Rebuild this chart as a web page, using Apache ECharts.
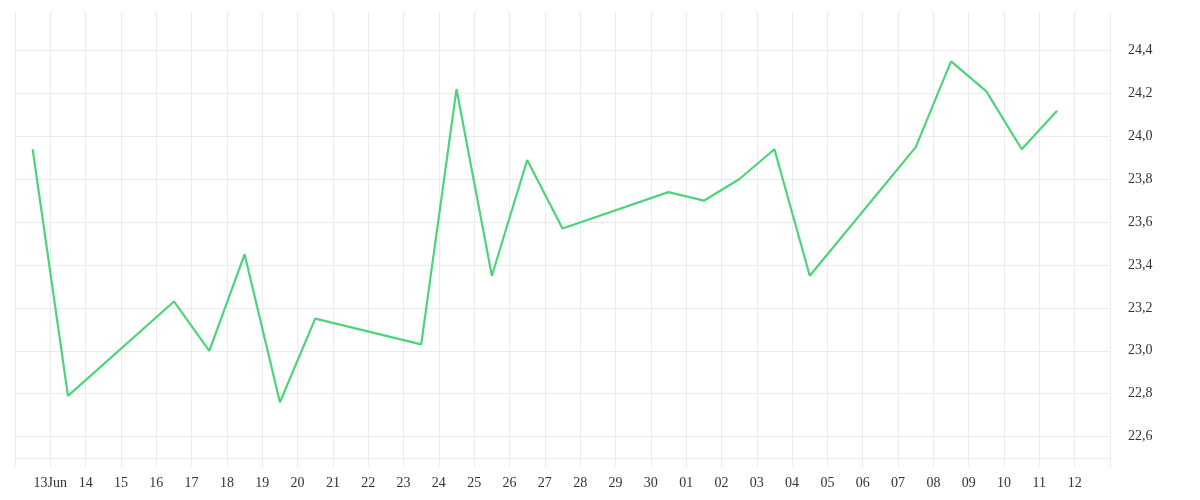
<!DOCTYPE html>
<html style="height: 100%">
<head>
    <meta charset="utf-8">
    <title>Line chart</title>
    <script src="https://cdn.jsdelivr.net/npm/echarts@6/dist/echarts.min.js"></script>
</head>
<body style="height: 100%; margin: 0; background: #fff">
    <div id="chart" style="width: 1200px; height: 500px"></div>
    <script>
        // dates (trading days, 2025) and values
        const dates = [
            '2025-06-12', '2025-06-13', '2025-06-16', '2025-06-17', '2025-06-18',
            '2025-06-19', '2025-06-20', '2025-06-23', '2025-06-24', '2025-06-25',
            '2025-06-26', '2025-06-27', '2025-06-30', '2025-07-01', '2025-07-02',
            '2025-07-03', '2025-07-04', '2025-07-07', '2025-07-08', '2025-07-09',
            '2025-07-10', '2025-07-11'
        ];
        const values = [
            23.94, 22.79, 23.23, 23.00, 23.45,
            22.76, 23.15, 23.03, 24.22, 23.35,
            23.89, 23.57, 23.74, 23.70, 23.80,
            23.94, 23.35, 23.95, 24.35, 24.21,
            23.94, 24.12
        ];
        const xStart = '2025-06-12';
        const xEnd = '2025-07-13';
        const firstLabelMonth = 'Jun';

        const DAY = 86400000;
        const ts = s => Date.parse(s + 'T00:00:00Z');
        // points sit in the middle of each day
        const seriesData = dates.map((d, i) => [ts(d) + DAY / 2, values[i]]);

        const gridColor = '#ebebeb';
        const textStyle = { color: '#333', fontFamily: 'Liberation Serif', fontSize: 14 };

        const chart = echarts.init(document.getElementById('chart'), null, { renderer: 'canvas' });
        chart.setOption({
            useUTC: true,
            animation: false,
            grid: { left: 15, right: 90, top: 12, bottom: 42 },
            xAxis: {
                type: 'time',
                min: ts(xStart),
                max: ts(xEnd),
                splitNumber: 31,
                minInterval: DAY,
                maxInterval: DAY,
                axisLine: { lineStyle: { color: gridColor } },
                axisTick: { show: true, length: 9, lineStyle: { color: gridColor } },
                splitLine: { show: true, lineStyle: { color: gridColor } },
                axisLabel: Object.assign({
                    margin: 18,
                    showMinLabel: false,
                    showMaxLabel: false,
                    hideOverlap: false,
                    interval: 0,
                    formatter: function (v) {
                        if (v <= ts(xStart) || v >= ts(xEnd)) return '';
                        const d = new Date(v);
                        const day = String(d.getUTCDate()).padStart(2, '0');
                        return v === ts(xStart) + DAY ? day + firstLabelMonth : day;
                    }
                }, textStyle)
            },
            yAxis: {
                type: 'value',
                position: 'right',
                min: 22.5,
                max: 24.58,
                splitNumber: 10,
                axisLine: { show: true, lineStyle: { color: gridColor } },
                axisTick: { show: false },
                splitLine: { show: true, showMaxLine: false, lineStyle: { color: gridColor } },
                axisLabel: Object.assign({
                    margin: 18,
                    showMinLabel: false,
                    showMaxLabel: false,
                    formatter: v => v.toFixed(1).replace('.', ',')
                }, textStyle)
            },
            series: [{
                type: 'line',
                data: seriesData,
                showSymbol: false,
                lineStyle: { color: '#4cd47b', width: 2.2 },
                itemStyle: { color: '#4cd47b' }
            }]
        });
    </script>
</body>
</html>
